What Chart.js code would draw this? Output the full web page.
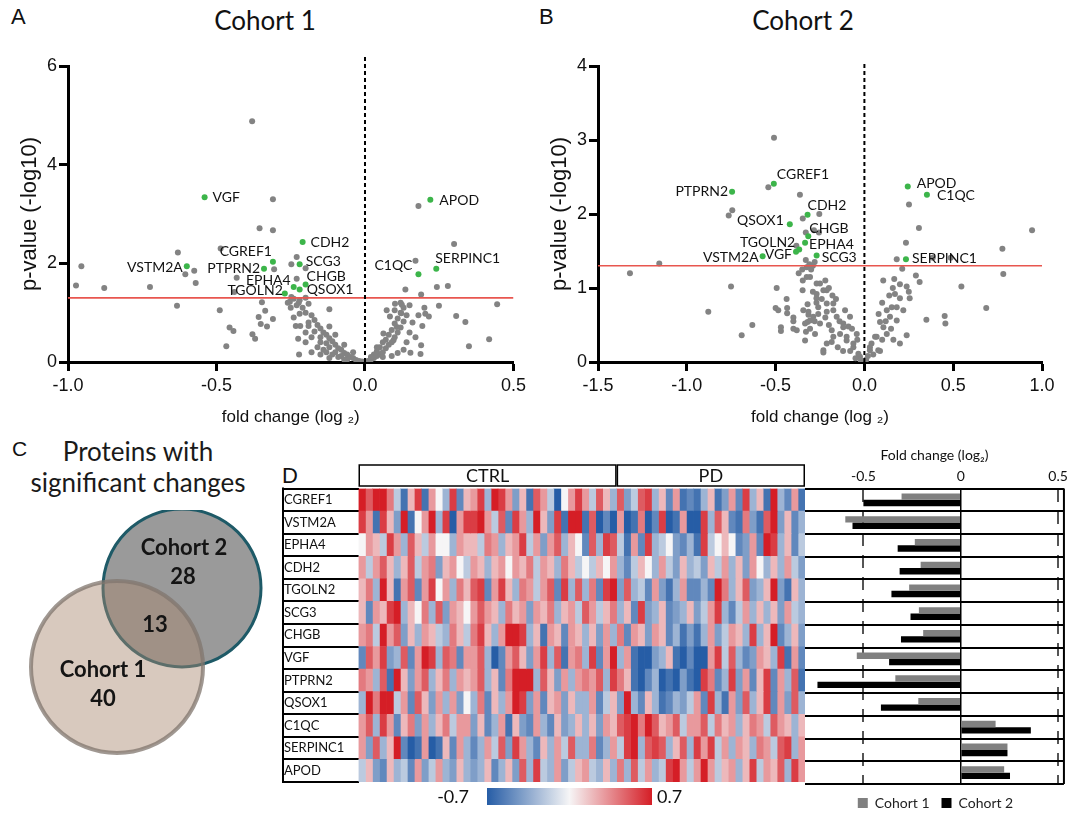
<!DOCTYPE html>
<html><head><meta charset="utf-8">
<script src="https://cdn.jsdelivr.net/npm/chart.js@4.4.1/dist/chart.umd.min.js"></script>
<style>
html,body{margin:0;padding:0;background:#fff;width:1072px;height:813px;overflow:hidden;position:relative;}
canvas{position:absolute;}
.pl{position:absolute;font-family:"Liberation Sans",Arial,sans-serif;color:#111;line-height:26px;}
.tt{position:absolute;font-family:Lato,sans-serif;color:#111;font-size:26px;line-height:30px;text-align:center;width:200px;}
.vt{position:absolute;font-family:Lato,sans-serif;color:#1a1a1a;font-size:26px;line-height:31px;text-align:center;width:260px;left:8px;}
</style></head><body>
<div class="pl" style="left:11px;top:4px;font-size:22px;">A</div>
<div class="pl" style="left:539px;top:4px;font-size:22px;">B</div>
<div class="pl" style="left:12px;top:436px;font-size:21px;">C</div>
<div class="pl" style="left:282px;top:463px;font-size:22px;">D</div>
<div class="tt" style="left:165px;top:5px;">Cohort 1</div>
<div class="tt" style="left:703px;top:5px;">Cohort 2</div>
<div class="vt" style="top:436px;">Proteins with</div>
<div class="vt" style="top:467px;">significant changes</div>
<canvas id="cA" width="530" height="430" style="left:0;top:0"></canvas>
<canvas id="cB" width="542" height="430" style="left:530px;top:0"></canvas>
<canvas id="cC" width="280" height="300" style="left:0;top:510px"></canvas>
<canvas id="cH" width="530" height="373" style="left:280px;top:440px"></canvas>
<canvas id="cBar" width="272" height="380" style="left:800px;top:440px"></canvas>
<script>
// ---------------- DATA ----------------
const pThreshold = 1.3;

// Panel A (Cohort 1) significant proteins
const cohort1SigNames = ['VGF','CGREF1','VSTM2A','PTPRN2','EPHA4','TGOLN2','CDH2','SCG3','CHGB','QSOX1','APOD','C1QC','SERPINC1'];
const cohort1SigFc = [-0.54,-0.31,-0.60,-0.34,-0.24,-0.27,-0.21,-0.22,-0.20,-0.22,0.22,0.18,0.24];
const cohort1SigP  = [3.34,2.03,1.94,1.89,1.52,1.39,2.43,1.98,1.57,1.47,3.29,1.78,1.89];
// Panel A other proteins [log2 fold change, -log10 p]
const cohort1Other = [
 [-0.38,4.88],[-0.31,3.30],[0.18,3.16],[-0.355,2.71],[-0.31,2.67],[-0.63,2.22],[-0.486,2.30],[0.30,2.39],[0.17,2.05],
 [-0.955,1.94],[-0.575,1.85],[-0.605,1.78],[-0.432,1.71],[-0.878,1.50],[-0.973,1.55],[-0.724,1.52],[-0.57,1.60],
 [-0.633,1.14],[-0.489,1.05],[-0.44,1.42],[-0.456,0.70],[-0.443,0.63],[-0.467,0.32],[-0.379,0.56],[-0.37,0.47],
 [-0.347,1.21],[-0.336,1.04],[-0.358,0.91],[-0.351,0.77],[-0.33,0.72],[-0.31,0.87],[-0.306,1.88],[-0.23,2.13],
 [-0.248,1.98],[-0.20,1.90],[-0.23,1.69],[-0.248,1.32],[-0.253,1.22],[-0.223,1.20],[-0.233,0.73],[-0.218,0.73],
 [-0.19,0.73],[-0.222,0.15],[-0.225,0.47],[-0.12,1.07],
 [0.242,1.52],[0.279,1.54],[0.136,1.47],[0.189,1.37],[0.249,1.14],[0.445,1.17],[0.307,0.93],[0.338,0.81],[0.418,0.46],
 [0.35,0.32],[0.20,1.10],[0.215,0.92],[0.203,0.98],[0.193,0.73],[0.189,0.34],[0.187,0.16],[0.153,0.19],
 [0.101,1.18],[0.124,1.16],[0.073,1.05],[0.122,0.99],[0.084,0.92],[0.107,0.71],[0.062,0.58],[0.096,0.44],[0.04,0.30],
 [-0.24,1.28],[-0.22,1.25],[-0.20,1.30],[-0.23,1.15],[-0.21,1.10],[-0.19,1.18],[-0.20,1.00],[-0.18,0.95],[-0.22,0.98],
 [-0.17,0.85],[-0.19,0.80],[-0.16,0.75],[-0.15,0.68],[-0.17,0.62],[-0.14,0.60],[-0.13,0.55],[-0.15,0.50],[-0.12,0.48],
 [-0.11,0.42],[-0.13,0.38],[-0.10,0.35],[-0.12,0.30],[-0.09,0.28],[-0.08,0.25],[-0.10,0.20],[-0.07,0.18],[-0.06,0.15],
 [-0.08,0.12],[-0.05,0.10],[-0.04,0.08],[-0.06,0.05],[-0.03,0.04],[-0.02,0.02],[-0.01,0.01],[-0.15,0.40],[-0.18,0.50],
 [-0.20,0.60],[-0.14,0.25],[-0.11,0.15],[-0.16,0.30],[-0.13,0.20],[-0.09,0.10],[-0.12,0.08],[-0.07,0.05],[-0.25,1.10],
 [-0.26,1.20],[-0.24,0.90],[-0.12,0.72],[-0.10,0.55],[-0.20,0.40],[-0.07,0.35],[-0.04,0.20],[-0.18,0.20],[-0.15,0.15],
 [0.01,0.02],[0.02,0.05],[0.03,0.08],[0.04,0.12],[0.05,0.15],[0.04,0.22],[0.06,0.20],[0.07,0.28],[0.05,0.30],[0.08,0.35],
 [0.09,0.40],[0.07,0.45],[0.10,0.50],[0.08,0.55],[0.11,0.60],[0.09,0.65],[0.12,0.70],[0.10,0.78],[0.13,0.82],[0.11,0.88],
 [0.14,0.95],[0.12,1.00],[0.10,1.05],[0.13,1.10],[0.15,1.15],[0.12,1.20],[0.06,0.10],[0.03,0.15],[0.15,0.60],[0.14,0.40],
 [0.13,0.25],[0.11,0.18],[0.16,0.80],[0.09,0.12],[0.06,0.40],[0.18,0.95],[0.17,0.50],[0.02,0.10]
];

// Panel B (Cohort 2) significant proteins
const cohort2SigNames = ['CGREF1','PTPRN2','QSOX1','CDH2','CHGB','EPHA4','SCG3','TGOLN2','VGF','VSTM2A','APOD','C1QC','SERPINC1'];
const cohort2SigFc = [-0.51,-0.745,-0.42,-0.32,-0.316,-0.334,-0.269,-0.367,-0.385,-0.573,0.244,0.352,0.234];
const cohort2SigP  = [2.41,2.30,1.86,1.99,1.70,1.61,1.44,1.52,1.49,1.43,2.37,2.26,1.39];
const cohort2Other = [
 [-0.509,3.03],[-0.541,2.36],[-0.363,2.26],[-0.744,2.05],[-0.764,1.98],[-0.347,1.94],[-0.254,2.00],[-0.256,1.75],
 [-0.383,1.57],[-0.284,1.78],[-0.33,1.75],[-1.155,1.33],[-1.32,1.20],[-0.751,1.02],[-0.494,1.00],[-0.879,0.68],
 [-0.631,0.50],[-0.691,0.36],[-0.50,0.73],[-0.47,0.47],[-0.47,0.42],[-0.438,0.85],[-0.435,0.73],[-0.435,0.66],
 [-0.40,0.60],[-0.40,0.55],[-0.40,0.45],[-0.329,0.41],[-0.334,0.29],[-0.32,0.54],[-0.315,0.64],[-0.315,0.68],
 [-0.325,1.15],[-0.348,0.97],[-0.29,0.95],[-0.27,0.86],[-0.27,0.80],[-0.485,0.70],[-0.347,1.10],[-0.325,1.28],
 [-0.306,1.15],[-0.25,1.06],[-0.269,0.92],[-0.212,0.97],[-0.26,0.74],[-0.212,0.68],[-0.175,0.79],[-0.156,0.61],
 [-0.119,0.52],[-0.137,0.38],[-0.10,0.29],[-0.062,0.20],[-0.025,0.07],[-0.184,0.43],[-0.231,0.16],[-0.278,0.38],
 [-0.306,0.45],[-0.381,0.43],[-0.306,0.56],[-0.184,0.27],[-0.109,0.70],[-0.081,0.61],[-0.09,0.48],[-0.043,0.38],
 [-0.33,1.38],[-0.31,1.32],[-0.35,1.25],[-0.37,1.20],[-0.30,1.25],[-0.28,1.35],[-0.29,1.30],[-0.32,0.78],
 [-0.269,1.06],[-0.231,0.97],[-0.212,0.79],[-0.175,0.70],[-0.119,0.47],[-0.10,0.34],[-0.062,0.25],[-0.034,0.11],
 [-0.344,0.70],[-0.334,0.52],[-0.288,0.61],[-0.25,0.52],[-0.212,0.25],[-0.231,0.13],[-0.175,0.34],
 [-0.05,0.05],[-0.02,0.02],[0.01,0.03],[0.02,0.08],[-0.08,0.15],[-0.04,0.30],[0.04,0.25],[0.05,0.10],[-0.15,0.20],
 [-0.12,0.15],[0.10,0.30],[0.12,0.55],[0.15,0.45],[-0.07,0.45],[-0.14,0.55],[-0.20,0.50],[-0.22,0.60],[-0.18,0.90],
 [-0.16,0.85],[-0.24,0.85],[-0.26,0.65],[-0.28,0.55],[-0.22,1.10],[-0.20,1.00],
 [0.106,1.10],[0.172,0.92],[0.088,0.54],[0.06,0.34],[0.031,0.16],[0.078,0.16],[0.126,0.38],[0.154,0.74],[0.182,0.56],
 [0.251,2.13],[0.307,1.81],[0.944,1.78],[0.234,1.61],[0.777,1.53],[0.182,1.39],[0.385,1.41],[0.486,1.41],[0.782,1.19],
 [0.546,1.02],[0.686,0.73],[0.452,0.62],[0.456,0.52],[0.349,0.57],[0.213,1.26],[0.168,1.12],[0.238,1.02],[0.29,1.17],
 [0.311,1.08],[0.255,0.86],[0.031,0.20],[0.069,0.34],[0.107,0.47],[0.144,0.61],[0.182,0.74],[0.20,0.86],[0.219,0.70],
 [0.163,0.30],[0.20,0.25],[0.238,0.36],[0.088,0.15],[0.126,0.70],[0.14,0.90],[0.16,1.00],[0.10,0.80],[0.08,0.65],
 [0.20,1.05],[0.25,0.95]
];

// Panel C (Venn)
const vennNames = ['Cohort 1','Cohort 2'];
const vennUnique = [40, 28];
const vennShared = 13;

// Panel D
const proteins = ['CGREF1','VSTM2A','EPHA4','CDH2','TGOLN2','SCG3','CHGB','VGF','PTPRN2','QSOX1','C1QC','SERPINC1','APOD'];
const groupNames = ['CTRL','PD'];
const groupSizes = [37, 27];
const barCohort1 = [-0.304,-0.593,-0.236,-0.206,-0.265,-0.215,-0.193,-0.534,-0.336,-0.218,0.179,0.240,0.223];
const barCohort2 = [-0.50,-0.556,-0.324,-0.314,-0.356,-0.258,-0.307,-0.368,-0.736,-0.410,0.360,0.240,0.253];
const barTicks = [-0.5, 0, 0.5];
const colorbarTicks = [-0.7, 0.7];

const hm_CGREF1 = [.7,.5,.7,.7,.4,-.2,-.6,.2,.6,-.6,.3,0,-.3,.6,-.5,.2, .3,.6,-.3,.7,.6,.3,-.4,.2,-.6,.5,.3,-.2,-.7,0,.3,.6, .3,-.2,.5,.2,-.3,.5,-.4,-.2,.5,.6,-.3,.2,-.5,.3,-.6,-.5, -.6,-.3,.2,-.6,-.4,.3,-.5,.6,-.3,.2,-.6,.7,-.3,-.5,.3,-.6];
const hm_VSTM2A = [.6,.3,-.6,.6,.2,-.4,.7,-.6,0,.3,.7,-.3,.6,-.7,.3,.6, .6,.7,.3,-.2,.5,-.5,.6,.3,-.3,.7,.2,-.4,.6,-.6,.7,.7, -.6,.5,-.7,-.5,-.7,.3,-.7,-.6,.4,-.7,-.5,.6,-.7,-.6,.3,-.7, -.7,.6,-.3,.5,.2,-.5,-.6,.4,-.4,-.6,.5,.7,-.4,.2,-.5,-.3];
const hm_EPHA4 = [0,.3,.2,-.2,.6,.3,-.3,.5,.2,-.2,.3,0,0,-.3,.3,.2, .2,-.2,.4,.3,-.3,.2,.3,.6,-.2,.3,-.4,.3,.5,-.3,.2,0, -.5,.5,-.3,.6,.5,-.2,-.6,.3,-.5,.6,-.3,-.2,0,-.4,-.5,-.3, -.6,.6,-.2,0,.2,0,-.5,-.4,.3,-.5,.7,.6,-.3,.2,-.5,-.2];
const hm_CDH2 = [.3,-.2,.3,.5,.2,-.3,.2,.5,-.2,.3,.4,-.4,.2,.3,0,-.2, .3,.2,-.3,.2,.3,0,.3,.2,.4,-.2,.3,.2,-.3,.4,.2,-.2, 0,-.2,.2,0,.3,-.3,-.5,-.2,.2,0,-.3,.3,-.2,-.4,.2,-.3, -.2,-.4,.2,-.2,.3,-.3,.2,-.4,.3,0,-.3,.2,-.3,.3,-.2,-.4];
const hm_TGOLN2 = [.2,.4,-.3,.7,.2,-.6,.3,.5,-.5,.3,.6,0,.3,-.3,.4,.2, .5,.6,-.5,.3,.6,.2,-.3,.4,.3,-.2,.3,.5,-.5,.6,-.3,.5, -.3,.4,-.5,.6,.7,-.4,.5,-.3,-.2,-.5,.3,-.4,-.6,-.3,.3,-.5, -.5,-.3,-.5,.7,.4,-.3,.2,.5,-.4,-.3,.2,.7,-.4,-.6,.2,-.3];
const hm_SCG3 = [.2,-.5,.3,.2,.6,.7,-.3,.2,0,.4,-.3,.5,-.4,.3,.2,0, .3,.5,.3,.2,-.3,.4,.2,.3,-.4,.3,.2,.4,-.3,.2,.3,-.2, .5,.3,-.2,.2,.4,-.3,.2,-.5,.6,-.4,-.3,.2,-.5,-.4,-.3,.2, -.4,-.2,.3,.6,-.3,-.5,-.2,.3,-.3,.2,-.3,.2,-.4,.3,-.2,-.3];
const hm_CHGB = [.3,.4,-.2,.7,.3,.5,-.4,.2,-.3,.3,.2,-.2,-.3,.4,.2,-.2, .4,.6,.2,-.3,.3,.7,.7,.6,-.3,.2,-.6,.3,.2,-.5,.3,.2, -.3,.2,-.4,.3,-.3,.4,-.5,.3,.2,-.4,.3,.2,-.5,-.3,-.6,-.4, -.6,-.3,.3,-.4,-.2,.3,.2,-.3,.6,-.3,.2,.7,-.5,-.3,.2,-.4];
const hm_VGF = [-.5,.5,.3,.6,-.4,-.3,.5,-.5,.3,.7,.6,-.3,.5,.4,-.5,.3, .3,.5,-.3,-.7,-.5,.3,.5,.2,-.4,.3,.6,-.3,.5,-.6,.3,.4, -.3,.6,-.5,.3,.7,-.3,.3,-.6,-.7,-.7,-.4,-.3,.2,-.6,-.7,-.5, -.7,-.7,.3,.6,-.2,.5,-.3,-.5,-.4,.3,.2,-.3,.6,-.6,.3,-.5];
const hm_PTPRN2 = [.4,.3,-.3,.5,-.6,.7,.2,-.4,.3,.5,-.3,.2,.4,-.3,.3,.2, .3,.5,-.3,.2,-.5,.4,.7,.7,.7,-.3,.5,.2,-.4,.3,-.3,.3, .4,.3,.5,-.3,.6,.4,.2,-.6,-.7,-.5,-.3,-.7,-.6,-.7,-.4,-.6, -.7,.6,.4,-.5,-.3,.6,-.4,.3,-.5,.2,.6,-.5,.3,-.3,.5,-.6];
const hm_QSOX1 = [-.3,.7,.4,.7,.7,-.2,.3,-.5,.5,.2,-.4,.3,-.3,.3,-.4,0, -.3,.4,-.5,.2,-.3,.3,.7,.6,-.4,.3,-.5,.2,.3,-.4,.2,-.3, -.3,.3,-.5,-.2,.2,-.4,.7,-.3,-.5,.2,-.3,-.6,-.5,-.3,-.4,-.2, .3,-.5,.6,-.3,-.6,.3,-.4,.5,-.3,.2,.6,-.5,.3,-.4,.5,-.3];
const hm_C1QC = [.3,.5,-.3,.6,.3,-.5,.2,.4,-.4,.3,-.3,.2,.4,-.2,.3,.3, -.4,.2,-.5,-.3,.3,-.6,.2,-.4,-.5,.3,-.3,-.5,.2,-.4,-.3,.2, -.3,.2,-.4,.3,.2,.5,.6,.7,.4,.7,.5,.2,.3,.5,-.2,.3, .3,.5,-.2,.4,.2,.3,-.3,.2,.4,.3,-.2,.5,.3,.2,-.3,.2];
const hm_SERPINC1 = [.3,-.4,.5,-.3,.2,.7,-.5,-.7,-.6,.3,-.7,-.6,.2,-.5,.3,-.3, -.5,-.3,.3,-.2,.5,-.4,.6,.3,-.3,-.5,.2,-.3,.3,-.2,.5,-.3, -.3,.4,-.5,-.3,.3,-.2,.6,.7,-.3,.5,.6,.5,-.3,.2,.5,-.3, .6,.3,.6,-.2,.3,-.3,.3,.2,-.3,.4,.3,-.2,.5,.6,-.3,.3];
const hm_APOD = [-.2,.2,-.4,-.5,.2,-.3,-.2,-.5,.3,-.4,-.2,.3,-.3,-.4,.2,-.3, -.4,-.3,.2,-.5,-.3,.2,-.4,.5,-.3,.6,-.2,-.3,.3,-.4,-.2,.2, .3,-.2,-.3,.2,-.3,.4,-.3,.5,-.2,.3,-.3,-.2,.6,.7,.3,-.2, .3,.7,.3,-.2,.2,.3,-.3,.2,.6,-.2,.3,.2,.5,-.3,.6,.3];
const heatRows = [hm_CGREF1,hm_VSTM2A,hm_EPHA4,hm_CDH2,hm_TGOLN2,hm_SCG3,hm_CHGB,hm_VGF,hm_PTPRN2,hm_QSOX1,hm_C1QC,hm_SERPINC1,hm_APOD];

// ---------------- STYLE / LAYOUT ----------------
Chart.defaults.animation = false;
Chart.defaults.responsive = false;
Chart.defaults.events = [];
Chart.defaults.plugins.tooltip.enabled = false;
Chart.defaults.color = '#111';

const labelPlaceA = {VGF:[8,0,'left'],CGREF1:[-1,-10,'right'],VSTM2A:[-4,1,'right'],PTPRN2:[-4,0,'right'],EPHA4:[-3,-7,'right'],
  TGOLN2:[-2,-3,'right'],CDH2:[8,0,'left'],SCG3:[6,-3,'left'],CHGB:[1,-8,'left'],QSOX1:[7,0,'left'],APOD:[9,1,'left'],
  C1QC:[-6,-9,'right'],SERPINC1:[-1,-10,'left']};
const labelPlaceB = {CGREF1:[3,-9,'left'],PTPRN2:[-4,0,'right'],QSOX1:[-6,-4,'right'],CDH2:[0,-9,'left'],CHGB:[1,-8,'left'],
  EPHA4:[4,2,'left'],SCG3:[5,2,'left'],TGOLN2:[-4,-7,'right'],VGF:[-4,3,'right'],VSTM2A:[-4,1,'right'],APOD:[9,-3,'left'],
  C1QC:[10,1,'left'],SERPINC1:[6,-1,'left']};

function labelPlugin(names, fc, p, place){
  return {id:'volcLabels', afterDatasetsDraw(chart){
    const {ctx, scales:{x,y}} = chart;
    ctx.save(); ctx.font = '14px Lato'; ctx.fillStyle = '#111'; ctx.textBaseline = 'middle';
    names.forEach((n,i)=>{ const pl = place[n]; ctx.textAlign = pl[2];
      ctx.fillText(n, x.getPixelForValue(fc[i]) + pl[0], y.getPixelForValue(p[i]) + pl[1]); });
    ctx.restore();
  }};
}

const axisFont = {family:'"Liberation Sans", Arial, sans-serif', size:18};
function volcano(id, o){
  const gridOpt = {drawOnChartArea:false, tickLength:9, tickWidth:3, tickColor:'#000', color:'#000'};
  return new Chart(document.getElementById(id), {
    type:'scatter',
    data:{datasets:[
      {data:o.sigFc.map((x,i)=>({x, y:o.sigP[i]})), backgroundColor:'#3cb54a', borderWidth:0, pointRadius:3, order:0},
      {data:[{x:0,y:0},{x:0,y:o.zeroTop}], showLine:true, borderColor:'#000', borderWidth:2, borderDash:[4,3], pointRadius:0, clip:false, order:1},
      {data:[{x:o.xMin,y:pThreshold},{x:o.xMax,y:pThreshold}], showLine:true, borderColor:'#e8564f', borderWidth:1.6, pointRadius:0, order:1},
      {data:o.other.map(([x,y])=>({x,y})), backgroundColor:'#838383', borderWidth:0, pointRadius:3, order:2}
    ]},
    options:{
      layout:{padding:{top:66, right:o.padRight, left:0, bottom:0}},
      plugins:{legend:{display:false}},
      scales:{
        x:{type:'linear', min:o.xMin, max:o.xMax,
           afterBuildTicks:s=>{s.ticks = o.xTicks.map(v=>({value:v}));},
           afterFit:s=>{s.height = 68;},
           ticks:{callback:v=>Number(v).toFixed(1), font:axisFont, color:'#111', padding:4, maxRotation:0},
           grid:gridOpt, border:{color:'#000', width:3},
           title:{display:true, text:'fold change (log ₂)', font:{family:axisFont.family, size:17}, color:'#111', padding:{top:0,bottom:2}}},
        y:{min:0, max:o.yMax,
           afterBuildTicks:s=>{s.ticks = o.yTicks.map(v=>({value:v}));},
           afterFit:s=>{s.width = 68;},
           ticks:{callback:v=>String(v), font:axisFont, color:'#111', padding:2},
           grid:gridOpt, border:{color:'#000', width:3},
           title:{display:true, text:'p-value (-log10)', font:{family:axisFont.family, size:22}, color:'#111', padding:{top:17,bottom:0}}}
      }
    },
    plugins:[labelPlugin(o.names, o.sigFc, o.sigP, o.place)]
  });
}

volcano('cA', {names:cohort1SigNames, sigFc:cohort1SigFc, sigP:cohort1SigP, other:cohort1Other, place:labelPlaceA,
  xMin:-1, xMax:0.5, xTicks:[-1,-0.5,0,0.5], yMax:6, yTicks:[0,2,4,6], zeroTop:6.2, padRight:15});
volcano('cB', {names:cohort2SigNames, sigFc:cohort2SigFc, sigP:cohort2SigP, other:cohort2Other, place:labelPlaceB,
  xMin:-1.5, xMax:1, xTicks:[-1.5,-1,-0.5,0,0.5,1], yMax:4, yTicks:[0,1,2,3,4], zeroTop:4.05, padRight:30});

// ---------------- Panel C: Venn (canvas-local layout units) ----------------
const vennGeom = [{x:117,y:157,r:86},{x:182,y:78,r:79}];
const vennTextPos = {name:[[103,160],[184,38]], count:[[103,189],[183,67]], shared:[155,115]};
const vennText = {id:'vennText', afterDatasetsDraw(chart){
  const {ctx, scales:{x,y}} = chart;
  ctx.save(); ctx.font='bold 22px Lato'; ctx.fillStyle='#141414'; ctx.textAlign='center'; ctx.textBaseline='middle';
  vennNames.forEach((n,i)=>{
    ctx.fillText(n, x.getPixelForValue(vennTextPos.name[i][0]), y.getPixelForValue(vennTextPos.name[i][1]));
    ctx.fillText(String(vennUnique[i]), x.getPixelForValue(vennTextPos.count[i][0]), y.getPixelForValue(vennTextPos.count[i][1]));
  });
  ctx.fillText(String(vennShared), x.getPixelForValue(vennTextPos.shared[0]), y.getPixelForValue(vennTextPos.shared[1]));
  ctx.restore();
}};
new Chart(document.getElementById('cC'), {
  type:'bubble',
  data:{datasets:[
    {label:vennNames[0], data:[vennGeom[0]], backgroundColor:'rgba(168,135,111,0.45)', borderColor:'rgba(128,118,110,0.75)', borderWidth:4, clip:false},
    {label:vennNames[1], data:[vennGeom[1]], backgroundColor:'#9a9a9a', borderColor:'#1e5a67', borderWidth:3, clip:false}
  ]},
  options:{
    layout:{padding:0, autoPadding:false},
    plugins:{legend:{display:false}},
    scales:{x:{display:false, min:0, max:280}, y:{display:false, min:0, max:300, reverse:true}}
  },
  plugins:[vennText]
});

// ---------------- Panel D: heatmap ----------------
const cBlue=[38,93,166], cWhite=[246,245,246], cRed=[213,30,38];
function heatColor(v){
  const t = Math.max(-1, Math.min(1, v/0.7)); const a = t<0 ? cBlue : cRed; const k = Math.abs(t);
  const c = cWhite.map((w,i)=>Math.round(w + (a[i]-w)*k)); return 'rgb('+c.join(',')+')';
}
const nCols = groupSizes.reduce((a,b)=>a+b,0);
const heatDatasets = [];
for (let c=0; c<nCols; c++){
  heatDatasets.push({data:proteins.map(()=>1), backgroundColor:heatRows.map(r=>heatColor(r[c])), borderWidth:0, barPercentage:1, categoryPercentage:1});
}
const heatDecor = {id:'heatDecor', afterDraw(chart){
  const {ctx, chartArea:ca, scales:{x,y}} = chart;
  ctx.save();
  ctx.strokeStyle='#000'; ctx.lineWidth=2;
  ctx.beginPath(); ctx.moveTo(y.left+1, ca.top-1); ctx.lineTo(y.left+1, ca.bottom+1); ctx.stroke();
  ctx.lineWidth=1.5; ctx.font='18px Lato'; ctx.fillStyle='#111'; ctx.textAlign='center'; ctx.textBaseline='middle';
  let start=0; const top=ca.top-23.5, bot=ca.top-2.5;
  groupNames.forEach((g,i)=>{
    const x0=x.getPixelForValue(start), x1=x.getPixelForValue(start+groupSizes[i]);
    ctx.strokeRect(x0+0.75, top, x1-x0-1.5, bot-top);
    ctx.fillText(g, (x0+x1)/2, (top+bot)/2+1);
    start += groupSizes[i];
  });
  const cb = {x0:207, x1:372, y0:348, y1:365};
  const grad = ctx.createLinearGradient(cb.x0,0,cb.x1,0);
  for (let s=0; s<=10; s++){ grad.addColorStop(s/10, heatColor(colorbarTicks[0] + (colorbarTicks[1]-colorbarTicks[0])*s/10)); }
  ctx.fillStyle=grad; ctx.fillRect(cb.x0, cb.y0, cb.x1-cb.x0, cb.y1-cb.y0);
  ctx.fillStyle='#111'; ctx.textBaseline='middle';
  ctx.textAlign='right'; ctx.fillText(String(colorbarTicks[0]), cb.x0-18, (cb.y0+cb.y1)/2+1);
  ctx.textAlign='left'; ctx.fillText(String(colorbarTicks[1]), cb.x1+5, (cb.y0+cb.y1)/2+1);
  ctx.restore();
}};
new Chart(document.getElementById('cH'), {
  type:'bar',
  data:{labels:proteins, datasets:heatDatasets},
  options:{
    indexAxis:'y',
    layout:{padding:{left:2, right:5, top:48.5, bottom:31}},
    plugins:{legend:{display:false}},
    scales:{
      x:{stacked:true, min:0, max:nCols, display:false},
      y:{stacked:true, afterFit:s=>{s.width=76.5;},
         grid:{offset:true, drawOnChartArea:false, tickLength:76.5, tickWidth:2, tickColor:'#000', color:'#000', lineWidth:2},
         border:{display:false},
         ticks:{mirror:true, padding:-74.5, font:{family:'Lato', size:13}, color:'#111'}}
    }
  },
  plugins:[heatDecor]
});

// ---------------- Panel D: fold-change bars ----------------
const barDecor = {id:'barDecor', afterDraw(chart){
  const {ctx, chartArea:ca} = chart;
  ctx.save(); ctx.strokeStyle='#000'; ctx.lineWidth=2;
  ctx.beginPath(); ctx.moveTo(ca.right, ca.top); ctx.lineTo(ca.right, ca.bottom); ctx.stroke(); ctx.restore();
}};
new Chart(document.getElementById('cBar'), {
  type:'bar',
  data:{labels:proteins, datasets:[
    {label:'Cohort 1', data:barCohort1, backgroundColor:'#808080', barPercentage:1, categoryPercentage:0.56},
    {label:'Cohort 2', data:barCohort2, backgroundColor:'#000', barPercentage:1, categoryPercentage:0.56}
  ]},
  options:{
    indexAxis:'y',
    layout:{padding:{left:5, right:6, top:0, bottom:0}},
    plugins:{legend:{position:'bottom', labels:{boxWidth:10, boxHeight:10, padding:12, font:{family:'Lato', size:14}, color:'#222'}}},
    scales:{
      x:{position:'top', min:-0.8, max:0.53,
         afterBuildTicks:s=>{s.ticks = barTicks.map(v=>({value:v}));},
         afterFit:s=>{s.height=48.5;},
         ticks:{callback:v=>String(v), font:{family:'Lato', size:14}, color:'#111', padding:4},
         grid:{drawTicks:false, color:c=>(c.tick && c.tick.value===0)?'#000':'#555', lineWidth:c=>(c.tick && c.tick.value===0)?1.5:2},
         border:{display:false, dash:c=>(c.tick && c.tick.value===0)?[]:[13,9]},
         title:{display:true, text:'Fold change (log₂)', font:{family:'Lato', size:14}, color:'#111', padding:{top:7,bottom:0}}},
      y:{ticks:{display:false}, grid:{offset:true, drawTicks:false, color:'#000', lineWidth:2}, border:{display:false}}
    }
  },
  plugins:[barDecor]
});
</script>
</body></html>
